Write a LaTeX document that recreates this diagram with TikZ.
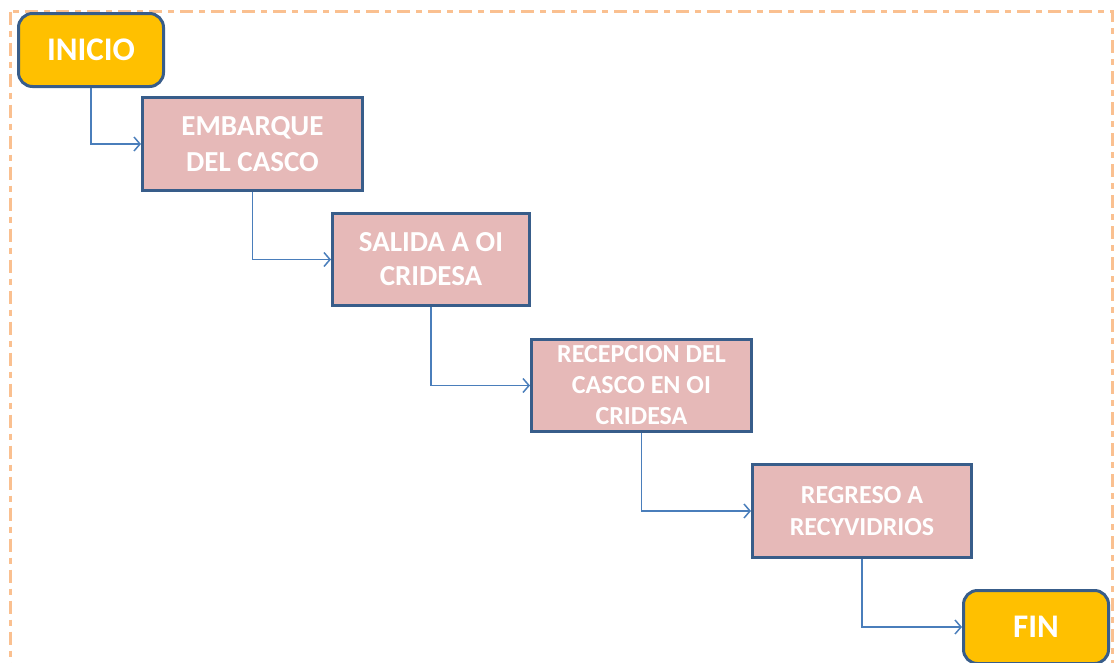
\documentclass[tikz,border=0pt]{standalone}
\usepackage{fontspec}
\setmainfont{Carlito}
\usetikzlibrary{arrows.meta}
\definecolor{bordeazul}{HTML}{385D8A}
\definecolor{rosa}{HTML}{E6B9B8}
\definecolor{amarillo}{HTML}{FFC000}
\definecolor{flechaazul}{HTML}{4A7EBB}
\definecolor{naranja}{HTML}{FAC090}
\tikzset{
  paso/.style={draw=bordeazul, line width=3pt, fill=rosa, align=center, text=white, inner sep=0pt},
  extremo/.style={draw=bordeazul, line width=3pt, fill=amarillo, rounded corners=14pt, text=white, inner sep=0pt,
    minimum width=145pt, minimum height=73pt, font=\fontsize{33}{40}\selectfont\bfseries},
  conector/.style={flechaazul, line width=1.5pt, -{Straight Barb[length=6pt,width=14pt]}}
}

\begin{document}
\begin{tikzpicture}[x=1pt,y=-1pt]
                \useasboundingbox (0,0) rectangle (1114,662);
                % marco
                \draw [naranja, line width=2.8pt, dash pattern=on 13pt off 6pt on 6pt off 6pt] (10.5,11.5) rectangle (1112.5,690);

                \node[extremo] (inicio) at (91,50) {INICIO};
                \node[paso, minimum width=220pt, minimum height=93pt, font=\fontsize{29}{36}\selectfont\bfseries] (embarque) at (252.5,144) {EMBARQUE\\DEL CASCO};
                \node[paso, minimum width=197pt, minimum height=92pt, font=\fontsize{29}{34}\selectfont\bfseries] (salida) at (431,259.5) {SALIDA A OI\\CRIDESA};
                \node[paso, minimum width=220pt, minimum height=92pt, font=\fontsize{26}{31}\selectfont\bfseries] (recepcion) at (641.5,385.5) {RECEPCION DEL\\CASCO EN OI\\CRIDESA};
                \node[paso, minimum width=219pt, minimum height=93pt, font=\fontsize{26}{32}\selectfont\bfseries] (regreso) at (862,511) {REGRESO A\\RECYVIDRIOS};
                \node[extremo] (fin) at (1036,627) {FIN};

                \draw [conector] (inicio.south) |- (embarque.west);
                \draw [conector] (embarque.south) |- (salida.west);
                \draw [conector] (salida.south) |- (recepcion.west);
                \draw [conector] (recepcion.south) |- (regreso.west);
                \draw [conector] (regreso.south) |- (fin.west);
            \end{tikzpicture}
\end{document}
